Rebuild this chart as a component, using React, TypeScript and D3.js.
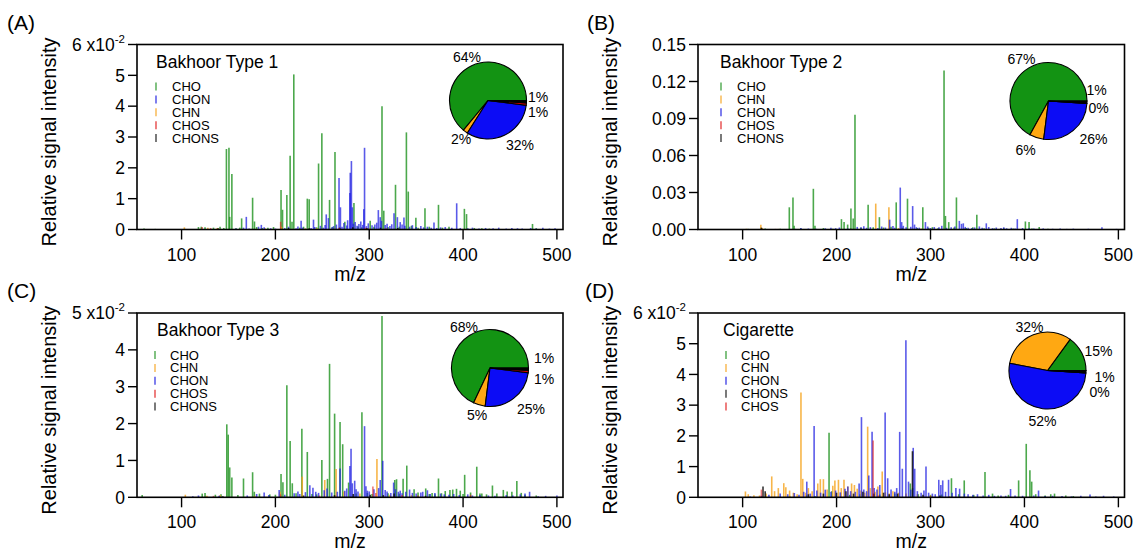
import React from 'react';
import * as d3 from 'd3';

type Peak = [number, number]; // [m/z, relative signal intensity]

// ---------- (A) Bakhoor Type 1 ----------
const A_CHO: Peak[] = [
  [60, 0.0003], [72, 0.0002], [118, 0.0008], [121, 0.0009], [125, 0.0007], [134, 0.0006], [141, 0.0009], [145, 0.0005],
  [147.8, 0.0261], [150.5, 0.0265], [151.3, 0.0041], [153.6, 0.018], [158, 0.0004], [162, 0.0006], [164, 0.0036],
  [175.7, 0.0103], [177.7, 0.0026], [180, 0.0008], [186, 0.0005], [192, 0.0006], [198, 0.0008],
  [206, 0.0128], [207.6, 0.0064], [212.2, 0.0112], [215.7, 0.0239], [217.7, 0.0025], [219.6, 0.0503],
  [226, 0.0006], [230, 0.0009], [234, 0.01], [236, 0.0098], [244, 0.0007], [246, 0.0214], [249.5, 0.0312],
  [257.7, 0.0096], [261, 0.0008], [263.5, 0.0251], [274, 0.0025], [283.7, 0.0086], [288, 0.001], [292, 0.0007],
  [301, 0.0028], [305, 0.0009], [313.6, 0.04], [315.5, 0.0061], [320, 0.0008], [328, 0.0145], [332, 0.0009],
  [339.6, 0.0315], [341.6, 0.0123], [345, 0.0012], [349.7, 0.0038], [352, 0.0006], [359.4, 0.0069], [364, 0.0009],
  [373.8, 0.008], [378, 0.0006], [385, 0.0009], [401.4, 0.0067], [403.7, 0.005], [412, 0.0005], [420, 0.0004],
  [428, 0.0003], [474, 0.0018], [478, 0.0004],
];
const A_CHON: Peak[] = [
  [158, 0.0003], [166, 0.0006], [169, 0.0041], [172, 0.0003], [182, 0.0009], [185, 0.0015], [188, 0.0007], [195, 0.0004],
  [200, 0.0003], [210, 0.0005], [214, 0.0009], [222, 0.0004], [224, 0.001], [227.4, 0.0028], [229, 0.0006], [238, 0.0005],
  [240.6, 0.0032], [242, 0.0008], [248, 0.0012], [251, 0.0006], [253, 0.0015], [254.2, 0.0049], [256.5, 0.0037],
  [260, 0.0007], [262, 0.0011], [265, 0.0016], [267.8, 0.0167], [269.3, 0.0072], [271, 0.0009], [273, 0.0021],
  [276, 0.0013], [277, 0.003], [279.4, 0.0118], [279.8, 0.0184], [281, 0.0222], [282, 0.0072], [283, 0.0019],
  [285, 0.0024], [287, 0.0012], [289, 0.0018], [291, 0.0026], [293, 0.0015], [294.2, 0.0066], [295, 0.0265],
  [297, 0.0011], [299, 0.002], [303, 0.0014], [306, 0.0016], [308, 0.0022], [309.7, 0.0063], [311.7, 0.004],
  [313, 0.0028], [317, 0.0015], [319, 0.0019], [322, 0.0011], [324, 0.0017], [326.4, 0.0053], [330, 0.004],
  [333, 0.0024], [335, 0.0016], [337, 0.0039], [338, 0.0012], [343, 0.0009], [346, 0.0014], [350, 0.0008],
  [355, 0.0011], [358, 0.0007], [362, 0.0009], [366, 0.0006], [369, 0.0023], [372, 0.0005], [376, 0.0007],
  [381, 0.0008], [388, 0.0006], [393.2, 0.0085], [397, 0.0005], [405, 0.0004], [410, 0.0006], [417, 0.0003],
  [424, 0.0005], [432, 0.0004], [438, 0.0006], [446, 0.0003], [452, 0.0005], [458, 0.0004], [463, 0.0003],
  [472, 0.0005], [478, 0.0003], [485, 0.0006], [492, 0.0003], [498, 0.0004],
];
const A_CHN: Peak[] = [
  [62, 0.0002], [78, 0.0002], [103, 0.0007], [128, 0.0006], [138, 0.0005], [189, 0.0004], [206.5, 0.0009],
  [244, 0.0005], [262, 0.0004], [300, 0.0004],
];
const A_CHOS: Peak[] = [
  [122, 0.0008], [131, 0.0005], [205.6, 0.0025], [232, 0.0004], [268, 0.0005], [296, 0.0006], [318, 0.0004],
];
const A_CHONS: Peak[] = [
  [139, 0.0004], [214, 0.0005], [236, 0.0004], [268.5, 0.0006], [282.5, 0.0007], [297.5, 0.0005], [312, 0.0006], [330.5, 0.0005],
];
const A_LEGEND = ['CHO', 'CHON', 'CHN', 'CHOS', 'CHONS'];
const A_PIE = [64, 2, 32, 1, 1]; // CHO, CHN, CHON, CHOS, CHONS (%)
const A_YTICKS = [0, 0.01, 0.02, 0.03, 0.04, 0.05, 0.06];

// ---------- (B) Bakhoor Type 2 ----------
const B_CHO: Peak[] = [
  [106, 0.0005], [124, 0.0008], [140, 0.0006], [149.7, 0.018], [153.6, 0.026], [154.8, 0.003], [162, 0.0009],
  [175.3, 0.033], [177, 0.003], [186, 0.0012], [196, 0.0007], [205.2, 0.0084], [208, 0.006], [211.8, 0.004],
  [215.3, 0.017], [217.7, 0.009], [219.6, 0.093], [226, 0.0014], [233.6, 0.02], [239, 0.0018], [245.6, 0.01],
  [250, 0.0016], [258, 0.0022], [263.5, 0.022], [270, 0.0015], [275.5, 0.025], [286, 0.0012], [291.8, 0.018],
  [298, 0.0014], [302, 0.0019], [308, 0.0011], [314.4, 0.129], [315.9, 0.011], [319.4, 0.006], [325, 0.0016],
  [327.6, 0.026], [338, 0.0012], [345, 0.0018], [349.3, 0.012], [357, 0.0011], [368, 0.0009], [378, 0.001],
  [388, 0.0008], [401, 0.0065], [404.9, 0.006], [408, 0.0009], [415.7, 0.002], [425, 0.0006], [440, 0.0004], [455, 0.0005],
];
const B_CHON: Peak[] = [
  [156, 0.0005], [162, 0.0012], [170, 0.0008], [178, 0.0006], [188, 0.001], [194, 0.0014], [199, 0.0011], [203, 0.0016],
  [212, 0.0009], [222, 0.0021], [226, 0.0018], [229, 0.0026], [232, 0.0014], [236, 0.0019], [244, 0.0012],
  [248, 0.0024], [252, 0.0016], [256.5, 0.008], [260, 0.0028], [262, 0.0015], [267.8, 0.034], [269.3, 0.006],
  [271, 0.003], [274, 0.0018], [279, 0.0022], [281, 0.019], [283, 0.004], [285, 0.0019], [288, 0.0015],
  [294.6, 0.006], [297, 0.0024], [300, 0.0012], [304, 0.002], [309, 0.0018], [312, 0.003], [317, 0.0014],
  [322, 0.0019], [326, 0.0024], [330.7, 0.007], [333, 0.0046], [334.9, 0.005], [337, 0.0021], [340, 0.0015],
  [344, 0.0012], [347, 0.0017], [352, 0.0025], [355, 0.0014], [359.4, 0.005], [362, 0.002], [366, 0.0011],
  [370, 0.0016], [375, 0.0013], [378, 0.0018], [381, 0.001], [386, 0.0014], [390, 0.0009], [392.4, 0.0084],
  [398, 0.0012], [405, 0.001], [410, 0.0008], [420, 0.0009], [430, 0.0006], [438, 0.0008], [445, 0.0005],
  [452, 0.0007], [460, 0.0005], [468, 0.0006], [475, 0.0004], [482.5, 0.0018], [490, 0.0004], [498, 0.0005],
];
const B_CHN: Peak[] = [
  [104, 0.0006], [119.4, 0.0038], [121, 0.0012], [138, 0.0005], [168, 0.0004], [241.7, 0.021], [255.7, 0.018],
  [266, 0.0012], [290, 0.0008],
];
const B_CHOS: Peak[] = [[135, 0.0005], [205, 0.0004], [318, 0.0003]];
const B_CHONS: Peak[] = [[120, 0.0015], [215, 0.0006], [281.5, 0.0005], [336, 0.0006]];
const B_LEGEND = ['CHO', 'CHN', 'CHON', 'CHOS', 'CHONS'];
const B_PIE = [67, 6, 26, 0, 1];
const B_YTICKS = [0, 0.03, 0.06, 0.09, 0.12, 0.15];

// ---------- (C) Bakhoor Type 3 ----------
const C_CHO: Peak[] = [
  [58, 0.0006], [122, 0.001], [125, 0.0012], [136, 0.0007], [142, 0.0008], [148.2, 0.0198], [149.7, 0.017],
  [151.3, 0.0081], [153.6, 0.0054], [160, 0.0006], [166, 0.0051], [175.7, 0.0068], [177.5, 0.0015], [183, 0.001],
  [194, 0.0008], [200, 0.0007], [206, 0.0063], [208, 0.0041], [212.2, 0.0304], [215.7, 0.0153], [218, 0.0038],
  [222, 0.0011], [228.2, 0.0186], [234, 0.0123], [239, 0.0009], [244, 0.0008], [249.5, 0.0101], [255.5, 0.005],
  [257.7, 0.0362], [263.1, 0.0227], [268.9, 0.0204], [271.7, 0.0144], [278, 0.004], [286, 0.001], [292.2, 0.0231],
  [298, 0.0012], [303, 0.0009], [313.6, 0.0492], [320, 0.0011], [327.2, 0.0047], [329.1, 0.0049], [332, 0.001],
  [336.1, 0.005], [340, 0.0086], [347.8, 0.0022], [352, 0.0013], [360.2, 0.0024], [364, 0.0009], [367, 0.0012],
  [370, 0.0008], [373.8, 0.0051], [377, 0.0011], [381, 0.0017], [386, 0.002], [389, 0.0021], [393, 0.0023],
  [397, 0.0018], [400, 0.0009], [401.7, 0.0061], [408, 0.0013], [414.6, 0.0083], [418, 0.001], [420, 0.001],
  [425, 0.0008], [431.3, 0.0032], [436, 0.001], [442.9, 0.002], [447, 0.0016], [452, 0.0015], [457.3, 0.0044],
  [462, 0.0012], [466, 0.0007], [478, 0.0005],
];
const C_CHON: Peak[] = [
  [112, 0.0003], [118, 0.0005], [140, 0.0004], [170, 0.0005], [180, 0.0009], [188, 0.0013], [193, 0.0006],
  [204, 0.002], [210, 0.0007], [220, 0.0011], [224, 0.0016], [226, 0.0009], [232, 0.0014], [236.7, 0.0033],
  [240, 0.0026], [243, 0.0015], [246, 0.0012], [252, 0.0019], [255, 0.0024], [260, 0.0013], [266, 0.0015],
  [268.9, 0.0078], [274, 0.0018], [276, 0.0024], [279.4, 0.0085], [280.6, 0.0132], [282, 0.0038], [284.5, 0.0045],
  [286, 0.0022], [288, 0.0016], [295, 0.0193], [296.5, 0.003], [298, 0.0018], [300, 0.0016], [305, 0.0022],
  [310, 0.0025], [311.7, 0.0047], [314.4, 0.0099], [317, 0.002], [319, 0.0016], [323, 0.0012], [326, 0.004],
  [328, 0.0022], [331, 0.0015], [333, 0.0018], [335, 0.0011], [339, 0.0015], [343, 0.0021], [346, 0.0012],
  [350, 0.001], [355, 0.0013], [357, 0.0015], [362, 0.0019], [365, 0.0009], [370, 0.0012], [376, 0.001],
  [380, 0.0008], [385, 0.0007], [390, 0.0009], [396, 0.0006], [405, 0.0008], [410, 0.0005], [418, 0.0006],
  [427, 0.0005], [434, 0.0004], [446, 0.0006], [453, 0.0005], [461, 0.0008], [466, 0.001], [470.9, 0.0015],
  [480, 0.0003], [488, 0.0004], [500, 0.0005],
];
const C_CHN: Peak[] = [
  [104, 0.0007], [127, 0.0004], [141, 0.0006], [178, 0.0004], [205, 0.0015], [228.6, 0.0056], [252.6, 0.0047],
  [264.7, 0.0077], [273, 0.0016], [290, 0.001], [308.2, 0.0104], [322, 0.0007], [345, 0.0006],
];
const C_CHOS: Peak[] = [
  [134, 0.0004], [205.5, 0.0008], [247, 0.0005], [303.9, 0.0029], [307, 0.0012], [335, 0.0006], [352, 0.0005], [408, 0.0007],
];
const C_CHONS: Peak[] = [
  [144, 0.0003], [230, 0.0005], [263, 0.0006], [283, 0.0009], [301, 0.0007], [315, 0.0006], [326.5, 0.001], [360, 0.0004],
];
const C_LEGEND = ['CHO', 'CHN', 'CHON', 'CHOS', 'CHONS'];
const C_PIE = [68, 5, 25, 1, 1];
const C_YTICKS = [0, 0.01, 0.02, 0.03, 0.04, 0.05];

// ---------- (D) Cigarette ----------
const D_CHO: Peak[] = [
  [150, 0.0005], [168, 0.0006], [177, 0.0004], [192, 0.021], [195, 0.002], [214, 0.0008], [225, 0.001],
  [246, 0.0009], [262, 0.0012], [278.5, 0.0045], [281, 0.003], [287, 0.001], [300, 0.0008], [312, 0.0009],
  [322.3, 0.0062], [330, 0.001], [335.9, 0.0055], [346, 0.0008], [358, 0.0082], [366, 0.0012], [372, 0.0006],
  [383, 0.0008], [393.8, 0.0055], [401.9, 0.0174], [405.8, 0.0088], [407.7, 0.0051], [412, 0.001], [422, 0.0006],
  [428, 0.001], [432, 0.0012], [444, 0.0006], [452, 0.0004],
];
const D_CHN: Peak[] = [
  [103, 0.0019], [106, 0.001], [112, 0.0007], [118, 0.0006], [125, 0.0012], [131, 0.0068], [134, 0.002],
  [138, 0.003], [143.8, 0.0046], [146, 0.0033], [150, 0.0022], [154, 0.0015], [158, 0.001], [162.1, 0.0341],
  [164, 0.006], [167, 0.0015], [170, 0.003], [174, 0.002], [180, 0.0045], [182.7, 0.0059], [186, 0.0059],
  [190, 0.0025], [196, 0.0038], [198.2, 0.0055], [202, 0.0057], [205, 0.003], [207.9, 0.0057], [212, 0.0035],
  [216, 0.0045], [219, 0.004], [222, 0.0028], [226, 0.0022], [230, 0.0015], [233.1, 0.023], [236, 0.003],
  [241, 0.0018], [244, 0.0035], [248.6, 0.0084], [252, 0.0016], [256, 0.0012], [260, 0.002], [266, 0.0015],
  [274, 0.0012], [286, 0.001], [300, 0.0006], [320, 0.0004],
];
const D_CHON: Peak[] = [
  [108, 0.0003], [120, 0.0005], [128, 0.0008], [140, 0.0012], [148, 0.001], [155, 0.0014], [160, 0.0008],
  [165, 0.0018], [168.3, 0.0051], [172, 0.0012], [176.1, 0.0232], [179, 0.0022], [183, 0.0015], [188, 0.0025],
  [194, 0.0018], [199, 0.0022], [204, 0.0016], [209, 0.0028], [212, 0.0035], [215, 0.002], [220, 0.0018],
  [224, 0.0045], [226.5, 0.0261], [229, 0.0025], [232, 0.002], [234.3, 0.0071], [237.8, 0.0213], [240, 0.003],
  [243, 0.0025], [246, 0.004], [251.7, 0.0276], [254.4, 0.0062], [258, 0.0025], [262, 0.0018], [264, 0.003],
  [267.2, 0.0213], [270, 0.0093], [273.8, 0.0511], [276.6, 0.0051], [279, 0.0025], [281.6, 0.0161], [283.2, 0.0093],
  [286, 0.002], [290, 0.0015], [293, 0.0022], [295.2, 0.01], [298, 0.0015], [302, 0.0012], [305, 0.001],
  [308.8, 0.0057], [311, 0.004], [313, 0.0055], [316, 0.0018], [319.2, 0.0057], [323, 0.0015], [327, 0.003],
  [331, 0.0028], [336, 0.0012], [340, 0.001], [345, 0.0008], [350, 0.001], [356, 0.0006], [362, 0.0008],
  [368, 0.0005], [375, 0.0006], [380, 0.0005], [385.2, 0.0027], [390, 0.0006], [398, 0.0005], [410, 0.0006],
  [415, 0.0022], [422, 0.0004], [430, 0.0005], [440, 0.0004], [450, 0.0003], [460, 0.0005], [469.8, 0.0009],
  [476, 0.0003], [484.2, 0.0005], [495, 0.0003],
];
const D_CHONS: Peak[] = [
  [121.7, 0.0035], [124, 0.002], [170, 0.001], [186, 0.0012], [200, 0.0015], [210, 0.002], [218, 0.0012],
  [228, 0.0018], [239.5, 0.0012], [250, 0.0015], [256, 0.001], [265, 0.0012], [280.8, 0.015], [292, 0.0008], [310, 0.0006],
];
const D_CHOS: Peak[] = [[120, 0.0025], [238.9, 0.0185], [244.5, 0.0006], [300, 0.0004]];
const D_LEGEND = ['CHO', 'CHN', 'CHON', 'CHONS', 'CHOS'];
const D_PIE = [15, 32, 52, 0, 1];
const D_YTICKS = [0, 0.01, 0.02, 0.03, 0.04, 0.05, 0.06];

// ---------- shared ----------
const MZ_DOMAIN: [number, number] = [52.5, 506.5];
const MZ_TICKS = [100, 200, 300, 400, 500];
const PIE_ORDER = ['CHO', 'CHN', 'CHON', 'CHOS', 'CHONS'];
const DRAW_ORDER = ['CHO', 'CHN', 'CHON', 'CHONS', 'CHOS'];

const FONT = "'Liberation Sans', Arial, Helvetica, sans-serif";
const BAR_COLOR: Record<string, string> = {
  CHO: '#1f921f', CHN: '#f5a31c', CHON: '#1a1ae0', CHOS: '#e01a1a', CHONS: '#111111',
};
const BAR_OPACITY: Record<string, number> = { CHO: 0.8, CHN: 0.8, CHON: 0.72, CHOS: 0.6, CHONS: 0.85 };
const PIE_COLOR: Record<string, string> = {
  CHO: '#139313', CHN: '#ffa812', CHON: '#0c0cf5', CHOS: '#e00000', CHONS: '#000000',
};
const PIE_R = 38.5;

interface PanelDef {
  tag: string;
  title: string;
  series: Record<string, Peak[]>;
  legend: string[];
  pie: number[];
  yMax: number;
  yTicks: number[];
  exp: boolean;
}

const PANELS: PanelDef[] = [
  { tag: 'A', title: 'Bakhoor Type 1', series: { CHO: A_CHO, CHN: A_CHN, CHON: A_CHON, CHOS: A_CHOS, CHONS: A_CHONS },
    legend: A_LEGEND, pie: A_PIE, yMax: 0.06, yTicks: A_YTICKS, exp: true },
  { tag: 'B', title: 'Bakhoor Type 2', series: { CHO: B_CHO, CHN: B_CHN, CHON: B_CHON, CHOS: B_CHOS, CHONS: B_CHONS },
    legend: B_LEGEND, pie: B_PIE, yMax: 0.15, yTicks: B_YTICKS, exp: false },
  { tag: 'C', title: 'Bakhoor Type 3', series: { CHO: C_CHO, CHN: C_CHN, CHON: C_CHON, CHOS: C_CHOS, CHONS: C_CHONS },
    legend: C_LEGEND, pie: C_PIE, yMax: 0.05, yTicks: C_YTICKS, exp: true },
  { tag: 'D', title: 'Cigarette', series: { CHO: D_CHO, CHN: D_CHN, CHON: D_CHON, CHOS: D_CHOS, CHONS: D_CHONS },
    legend: D_LEGEND, pie: D_PIE, yMax: 0.06, yTicks: D_YTICKS, exp: true },
];

// Frame geometry and annotation placement for each panel.
// pieLabels are offsets from the pie centre, in PIE_ORDER.
const LAYOUT: Record<string, any> = {
  A: { left: 137, top: 44.5, width: 426, height: 185, tagX: 7, tagY: 30, titleX: 19, legMark: 19, legText: 35,
       pieDx: -75, pieDy: 56, pieLabels: [[-21, -43], [-27, 39], [32, 45], [50, 12], [50, -3]] },
  B: { left: 698, top: 44.5, width: 426.5, height: 185, tagX: 587, tagY: 30, titleX: 22, legMark: 23, legText: 39,
       pieDx: -76, pieDy: 56.5, pieLabels: [[-27, -42], [-23, 49], [45, 38], [50, 7], [48, -11]] },
  C: { left: 137, top: 313, width: 426, height: 184.3, tagX: 7, tagY: 298, titleX: 20, legMark: 18, legText: 33,
       pieDx: -73, pieDy: 55, pieLabels: [[-26, -41], [-13, 47], [41, 41], [54, 11], [54, -10]] },
  D: { left: 698, top: 313, width: 426.5, height: 184.3, tagX: 585, tagY: 298, titleX: 25, legMark: 28, legText: 43,
       pieDx: -77, pieDy: 57.5, pieLabels: [[51, -19], [-18, -43], [-5, 51], [52, 22], [57, 7]] },
};

function Panel({ def }: { def: PanelDef }) {
  const L = LAYOUT[def.tag];
  const right = L.left + L.width;
  const bottom = L.top + L.height;
  const x = d3.scaleLinear().domain(MZ_DOMAIN).range([L.left, right]);
  const y = d3.scaleLinear().domain([0, def.yMax]).range([bottom, L.top]);

  // slices run counter-clockwise from 3 o'clock
  const pieGen = d3
    .pie<number>()
    .sort(null)
    .value((d) => d)
    .startAngle(Math.PI / 2)
    .endAngle(Math.PI / 2 - 2 * Math.PI);
  const slices = pieGen(def.pie);
  const arcGen = d3.arc<d3.PieArcDatum<number>>().innerRadius(0).outerRadius(PIE_R);
  const cx = right + L.pieDx;
  const cy = L.top + L.pieDy;

  const topTick = def.yTicks[def.yTicks.length - 1];
  const fmt = (v: number) => (def.exp ? String(Math.round(v * 100)) : v.toFixed(2));

  return (
    <g>
      <text x={L.tagX} y={L.tagY} fontSize={21}>{`(${def.tag})`}</text>

      {/* spectra */}
      {DRAW_ORDER.map((s) =>
        (def.series[s] || []).map(([mz, v], i) => (
          <line
            key={`${s}-${i}`}
            x1={x(mz)}
            x2={x(mz)}
            y1={y(0)}
            y2={y(v)}
            stroke={BAR_COLOR[s]}
            strokeOpacity={BAR_OPACITY[s]}
            strokeWidth={1.6}
          />
        ))
      )}

      {/* frame */}
      <rect x={L.left} y={L.top} width={L.width} height={L.height} fill="none" stroke="#000" strokeWidth={1.6} />

      {/* y axis */}
      {def.yTicks.map((t) => (
        <g key={`yt-${t}`}>
          <line x1={L.left - 9} x2={L.left} y1={y(t)} y2={y(t)} stroke="#000" strokeWidth={1.4} />
          <text x={L.left - 12} y={y(t)} dy="0.36em" textAnchor="end" fontSize={17.5}>
            {def.exp && t === topTick ? (
              <>
                <tspan>{`${fmt(t)} x10`}</tspan>
                <tspan fontSize={11.5} dy={-8}>-2</tspan>
              </>
            ) : (
              fmt(t)
            )}
          </text>
        </g>
      ))}

      {/* x axis */}
      {MZ_TICKS.map((t) => (
        <g key={`xt-${t}`}>
          <line x1={x(t)} x2={x(t)} y1={bottom} y2={bottom + 10} stroke="#000" strokeWidth={1.4} />
          <text x={x(t)} y={bottom + 31} textAnchor="middle" fontSize={17.5}>{t}</text>
        </g>
      ))}
      <text x={(L.left + right) / 2} y={bottom + 51} textAnchor="middle" fontSize={19.5}>m/z</text>
      <text
        transform={`translate(${L.left - 88},${L.top + L.height / 2 + 5}) rotate(-90)`}
        textAnchor="middle"
        dy="0.35em"
        fontSize={20}
      >
        Relative signal intensity
      </text>

      {/* title + legend */}
      <text x={L.left + L.titleX} y={L.top + 23} fontSize={17.5}>{def.title}</text>
      {def.legend.map((name, i) => {
        const yy = L.top + 42 + i * 12.9;
        return (
          <g key={`lg-${name}`}>
            <line
              x1={L.left + L.legMark}
              x2={L.left + L.legMark}
              y1={yy - 4}
              y2={yy + 4}
              stroke={BAR_COLOR[name]}
              strokeOpacity={0.7}
              strokeWidth={1.6}
            />
            <text x={L.left + L.legText} y={yy} dy="0.35em" fontSize={13}>{name}</text>
          </g>
        );
      })}

      {/* composition pie */}
      <g transform={`translate(${cx},${cy})`}>
        {slices.map((sl, i) => (
          <path key={`pie-${i}`} d={arcGen(sl) || ''} fill={PIE_COLOR[PIE_ORDER[i]]} stroke="#000" strokeWidth={1.1} />
        ))}
        {def.pie.map((v, i) => (
          <text
            key={`pl-${i}`}
            x={L.pieLabels[i][0]}
            y={L.pieLabels[i][1]}
            dy="0.35em"
            textAnchor="middle"
            fontSize={14}
          >
            {`${v}%`}
          </text>
        ))}
      </g>
    </g>
  );
}

export default function App() {
  return (
    <svg
      width={1135}
      height={554}
      style={{ position: 'absolute', left: 0, top: 0, background: '#fff' }}
      fontFamily={FONT}
    >
      <rect width={1135} height={554} fill="#fff" />
      {PANELS.map((p) => (
        <Panel key={p.tag} def={p} />
      ))}
    </svg>
  );
}
